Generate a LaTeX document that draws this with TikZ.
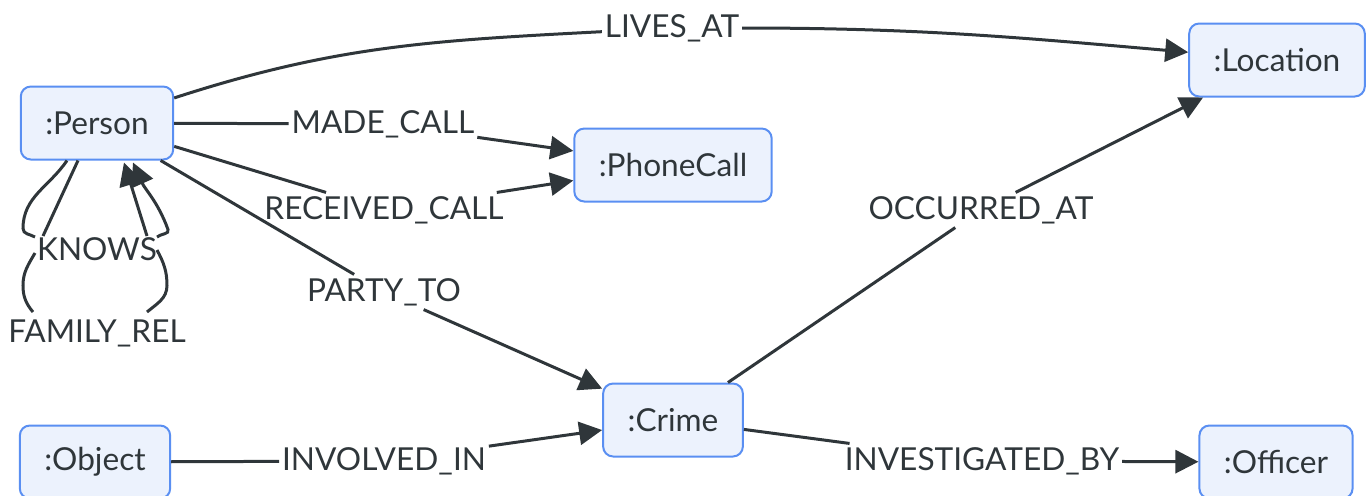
\documentclass[tikz,border=0pt]{standalone}
\usepackage{fontspec}
\setmainfont{Lato}
\usetikzlibrary{arrows.meta,calc}
\definecolor{inkgrey}{HTML}{2F363A}
\definecolor{boxfill}{HTML}{ECF2FD}
\definecolor{boxline}{HTML}{5A8FF2}

\begin{document}
\begin{tikzpicture}[x=0.02cm,y=0.02cm,
        entity/.style={draw=boxline,fill=boxfill,line width=0.04cm,rounded corners=0.2cm,
            minimum height=1.46cm,inner xsep=0.49cm,text=inkgrey,font=\fontsize{18}{21}\selectfont},
        rel/.style={inner xsep=1.5pt,inner ysep=2pt,text=inkgrey,font=\fontsize{18}{21}\selectfont},
        link/.style={draw=inkgrey,line width=0.06cm,-{Triangle[length=0.46cm,width=0.46cm]}}]
        \useasboundingbox (0,0) rectangle (1368,-495);
        % entity boxes
        \node[entity] (person) at (97,-123) {:Person};
        \node[entity] (phonecall) at (673,-165) {:PhoneCall};
        \node[entity] (location) at (1277,-60) {:Location};
        \node[entity] (crime) at (673,-420) {:Crime};
        \node[entity] (object) at (95,-462) {:Object};
        \node[entity] (officer) at (1276,-462) {:Officer};
        % relationship labels
        \node[rel] (livesat) at (672,-28) {LIVES\_AT};
        \node[rel] (madecall) at (383,-124) {MADE\_CALL};
        \node[rel] (receivedcall) at (384,-210) {RECEIVED\_CALL};
        \node[rel] (partyto) at (384,-292) {PARTY\_TO};
        \node[rel] (knows) at (97,-249) {KNOWS};
        \node[rel] (familyrel) at (97,-333) {FAMILY\_REL};
        \node[rel] (occurredat) at (981,-210) {OCCURRED\_AT};
        \node[rel] (involvedin) at (384,-461) {INVOLVED\_IN};
        \node[rel] (investigatedby) at (982,-461) {INVESTIGATED\_BY};
        % connectors
        \draw[link] (person) to[out=18,in=183] (livesat) to[out=0,in=175] (location);
        \draw[link] (person) -- (madecall) -- (phonecall);
        \draw[link] (person) -- (receivedcall) -- (phonecall);
        \draw[link] (person) -- (partyto) -- (crime);
        \draw[link] (crime) -- (occurredat) -- (location);
        \draw[link] (object) -- (involvedin) -- (crime);
        \draw[link] (crime) -- (investigatedby) -- (officer);
        % self loops on person
        \draw[link] ($(person.south)+(-19,0)$) -- ($(knows)+(-54,13)$)
            ($(knows)+(50,13)$) -- ($(person.south)+(27,-2)$);
        \draw[link] ($(person.south)+(-30,0)$) to[out=-124,in=90] ($(person.south)+(-74,-68)$)
            to[out=-90,in=150] ($(knows)+(-62,12)$)
            ($(knows)+(-62,-4)$) to[out=-120,in=90] ($(person.south)+(-74,-125)$)
            to[out=-90,in=130] ($(familyrel)+(-64,21)$)
            ($(familyrel)+(50,21)$) to[out=40,in=-90] ($(person.south)+(70,-125)$)
            to[out=90,in=-62] ($(knows)+(60,-1)$)
            ($(knows)+(60,12)$) to[out=42,in=-70] ($(person.south)+(71,-69)$)
            to[out=110,in=-66] ($(person.south)+(36,-2)$);
\end{tikzpicture}
\end{document}
